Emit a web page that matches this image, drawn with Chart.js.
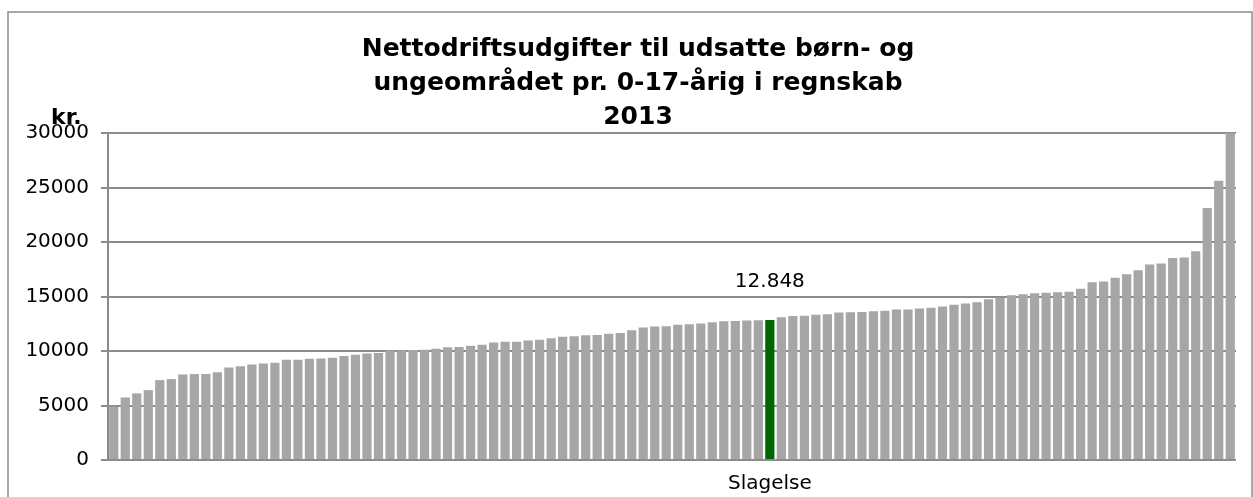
<!DOCTYPE html>
<html>
<head>
<meta charset="utf-8">
<script src="https://cdn.jsdelivr.net/npm/chart.js@4.4.1/dist/chart.umd.min.js"></script>
<style>
  html, body { margin: 0; padding: 0; background: #fff; }
  #wrap { width: 1253px; height: 497px; position: relative; }
</style>
</head>
<body>
<div id="wrap"><canvas id="graf"></canvas></div>
<script>
// titel og enheder
const titelLinjer = ['Nettodriftsudgifter til udsatte børn- og', 'ungeområdet pr. 0-17-årig i regnskab', '2013'];
const enhed = 'kr.';

// kommunerne sorteret efter udgift, kun Slagelse er navngivet
const kommuner = Array(98).fill('');
const slagelseIdx = 57;
kommuner[slagelseIdx] = 'Slagelse';

const udgifter = [
  4900, 5740, 6110, 6410, 7330, 7420, 7850, 7880, 7890, 8060,
  8490, 8610, 8770, 8860, 8920, 9190, 9200, 9290, 9320, 9380,
  9530, 9650, 9770, 9810, 10050, 10080, 10090, 10110, 10200, 10350,
  10360, 10480, 10570, 10780, 10840, 10850, 10970, 11030, 11180, 11300,
  11360, 11450, 11460, 11580, 11640, 11910, 12160, 12250, 12260, 12400,
  12460, 12520, 12640, 12730, 12760, 12790, 12820, 12848, 13100, 13220,
  13230, 13320, 13380, 13530, 13560, 13570, 13650, 13690, 13800, 13810,
  13900, 13960, 14080, 14240, 14360, 14480, 14750, 14880, 15120, 15210,
  15300, 15340, 15400, 15430, 15700, 16310, 16380, 16710, 17050, 17410,
  17930, 18020, 18540, 18580, 19150, 23120, 25630, 30000
];
const yTicks = [0, 5000, 10000, 15000, 20000, 25000, 30000];

const graa = '#a6a6a6';
const groen = '#006600';
const linjeFarve = '#8c8c8c';
const skrift = "'DejaVu Sans', Verdana, sans-serif";

const farver = udgifter.map((v, i) => i === slagelseIdx ? groen : graa);

const tegnTekst = {
  id: 'tegnTekst',
  beforeDraw(chart) {
    const ctx = chart.ctx;
    ctx.save();
    ctx.strokeStyle = linjeFarve;
    ctx.lineWidth = 1.5;
    ctx.strokeRect(8, 12, 1244, 500);
    ctx.restore();
  },
  afterDraw(chart) {
    const ctx = chart.ctx;
    ctx.save();
    ctx.fillStyle = '#000';
    ctx.font = 'bold 25px ' + skrift;
    ctx.textAlign = 'center';
    ctx.textBaseline = 'alphabetic';
    titelLinjer.forEach((t, i) => ctx.fillText(t, 638, 56 + i * 34));
    ctx.font = 'bold 22px ' + skrift;
    ctx.textAlign = 'left';
    ctx.fillText(enhed, 51, 124);
    // værdi over Slagelse-søjlen
    const bar = chart.getDatasetMeta(0).data[slagelseIdx];
    ctx.font = '20px ' + skrift;
    ctx.textAlign = 'center';
    ctx.fillText(udgifter[slagelseIdx].toLocaleString('da-DK'), bar.x, bar.y - 33);
    ctx.restore();
  }
};

new Chart(document.getElementById('graf'), {
  type: 'bar',
  data: {
    labels: kommuner,
    datasets: [{
      data: udgifter,
      backgroundColor: farver,
      borderWidth: 0,
      barPercentage: 0.8,
      categoryPercentage: 1.0
    }]
  },
  options: {
    responsive: true,
    maintainAspectRatio: false,
    animation: false,
    layout: { padding: { top: 133, right: 17, bottom: 0, left: 0 } },
    plugins: {
      legend: { display: false },
      title: { display: false },
      tooltip: { enabled: false }
    },
    scales: {
      x: {
        grid: { display: false },
        border: { display: false },
        ticks: {
          autoSkip: false,
          maxRotation: 0,
          minRotation: 0,
          padding: 4,
          color: '#000',
          font: { family: skrift, size: 20 }
        },
        afterFit(scale) { scale.height = 37; }
      },
      y: {
        min: 0,
        max: 30000,
        afterBuildTicks(scale) { scale.ticks = yTicks.map(v => ({ value: v })); },
        grid: { color: linjeFarve, lineWidth: 2, tickLength: 7, drawTicks: true },
        border: { display: true, color: linjeFarve, width: 2 },
        ticks: {
          padding: 12,
          color: '#000',
          font: { family: skrift, size: 20 },
          callback: v => String(v)
        },
        afterFit(scale) { scale.width = 108; }
      }
    }
  },
  plugins: [tegnTekst]
});
</script>
</body>
</html>
